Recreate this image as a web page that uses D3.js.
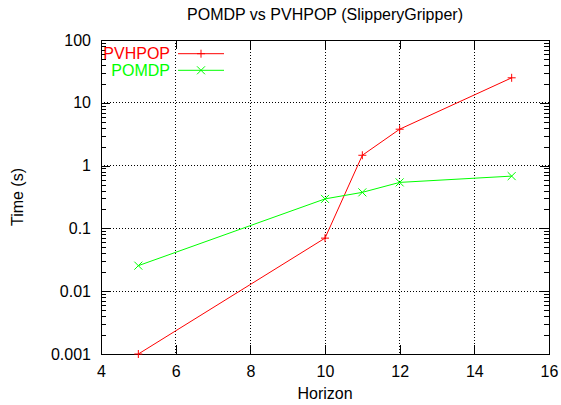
<!DOCTYPE html>
<html><head><meta charset="utf-8">
<script src="https://cdn.jsdelivr.net/npm/d3@7"></script>
<style>body{margin:0;background:#fff}text{font-family:"Liberation Sans",Arial,sans-serif;}</style>
</head><body><svg id="c" width="561" height="405"></svg>
<script>
const horizonPV = [5, 10, 11, 12, 15];
const timePV = [0.001, 0.07, 1.46, 3.8, 25];
const horizonPO = [5, 10, 11, 12, 15];
const timePO = [0.0255, 0.295, 0.375, 0.54, 0.68];
const xTicks = [4, 6, 8, 10, 12, 14, 16];
const yTicks = [0.001, 0.01, 0.1, 1, 10, 100];
const yTickLabels = ["0.001", "0.01", "0.1", "1", "10", "100"];

const svg = d3.select("#c");
const L = 101, R = 549, T = 40, B = 354;
const x = d3.scaleLinear().domain([4, 16]).range([L, R]);
const y = d3.scaleLog().domain([0.001, 100]).range([B, T]);
const fs = 16;

// grid
const g = svg.append("g");
xTicks.filter(d => d > 4 && d < 16).forEach(d => {
  g.append("line").attr("x1", x(d)).attr("x2", x(d)).attr("y1", T).attr("y2", B)
   .attr("stroke", "#000").attr("stroke-width", 1).attr("stroke-dasharray", "1,2").attr("shape-rendering","crispEdges");
});
yTicks.filter(d => d > 0.001 && d < 100).forEach(d => {
  g.append("line").attr("x1", L).attr("x2", R).attr("y1", y(d)).attr("y2", y(d))
   .attr("stroke", "#000").attr("stroke-width", 1).attr("stroke-dasharray", "1,2").attr("shape-rendering","crispEdges");
});

// axes with inward ticks
const minor = [];
for (let e = -3; e < 2; e++) for (let m = 2; m <= 9; m++) minor.push(m * Math.pow(10, e));
const axB = d3.axisBottom(x).tickValues(xTicks).tickSize(-9).tickPadding(11.5).tickFormat(d3.format("d"));
const axT = d3.axisTop(x).tickValues(xTicks).tickSize(-9).tickFormat("");
const axL = d3.axisLeft(y).tickValues(yTicks).tickSize(-9).tickPadding(10).tickFormat((d, i) => yTickLabels[i]);
const axR = d3.axisRight(y).tickValues(yTicks).tickSize(-9).tickFormat("");
const axLm = d3.axisLeft(y).tickValues(minor).tickSize(-5).tickFormat("");
const axRm = d3.axisRight(y).tickValues(minor).tickSize(-5).tickFormat("");
[[axB, `translate(0,${B})`], [axT, `translate(0,${T})`], [axL, `translate(${L},0)`], [axR, `translate(${R},0)`],
 [axLm, `translate(${L},0)`], [axRm, `translate(${R},0)`]].forEach(([a, t]) => {
  const s = svg.append("g").attr("transform", t).call(a);
  s.select(".domain").remove();
  s.selectAll("line").attr("stroke", "#000").attr("shape-rendering","crispEdges");
  s.selectAll("text").attr("font-size", fs).attr("fill", "#000").style("font-family", "Liberation Sans, Arial, sans-serif");
});
svg.append("rect").attr("x", L).attr("y", T).attr("width", R - L).attr("height", B - T)
  .attr("fill", "none").attr("stroke", "#000").attr("shape-rendering","crispEdges");

// series
function plus(sel, cx, cy, col) {
  sel.append("path").attr("d", `M${cx-4},${cy}H${cx+4}M${cx},${cy-4}V${cy+4}`).attr("stroke", col).attr("stroke-width", 1);
}
function cross(sel, cx, cy, col) {
  sel.append("path").attr("d", `M${cx-4},${cy-4}L${cx+4},${cy+4}M${cx-4},${cy+4}L${cx+4},${cy-4}`).attr("stroke", col).attr("stroke-width", 1);
}
const line = d3.line().x(d => x(d[0])).y(d => y(d[1]));
const dPV = horizonPV.map((h, i) => [h, timePV[i]]);
const dPO = horizonPO.map((h, i) => [h, timePO[i]]);
svg.append("path").datum(dPV).attr("d", line).attr("fill", "none").attr("stroke", "#ff0000").attr("stroke-width", 1);
dPV.forEach(d => plus(svg, x(d[0]), y(d[1]), "#ff0000"));
svg.append("path").datum(dPO).attr("d", line).attr("fill", "none").attr("stroke", "#00ff00").attr("stroke-width", 1);
dPO.forEach(d => cross(svg, x(d[0]), y(d[1]), "#00ff00"));

// legend
const leg = [["PVHPOP", "#ff0000", plus, 53.7], ["POMDP", "#00ff00", cross, 70.3]];
leg.forEach(([name, col, mk, ly]) => {
  svg.append("text").attr("x", 170).attr("y", ly + 5.2).attr("text-anchor", "end").attr("font-size", fs).attr("fill", col).text(name);
  svg.append("line").attr("x1", 178).attr("x2", 224).attr("y1", ly).attr("y2", ly).attr("stroke", col);
  mk(svg, 201, ly, col);
});

// titles
svg.append("text").attr("x", 325).attr("y", 19.5).attr("text-anchor", "middle").attr("font-size", fs).text("POMDP vs PVHPOP (SlipperyGripper)");
svg.append("text").attr("x", 325).attr("y", 399).attr("text-anchor", "middle").attr("font-size", fs).text("Horizon");
svg.append("text").attr("transform", "translate(22.5,197) rotate(-90)").attr("text-anchor", "middle").attr("font-size", fs).text("Time (s)");
</script></body></html>
